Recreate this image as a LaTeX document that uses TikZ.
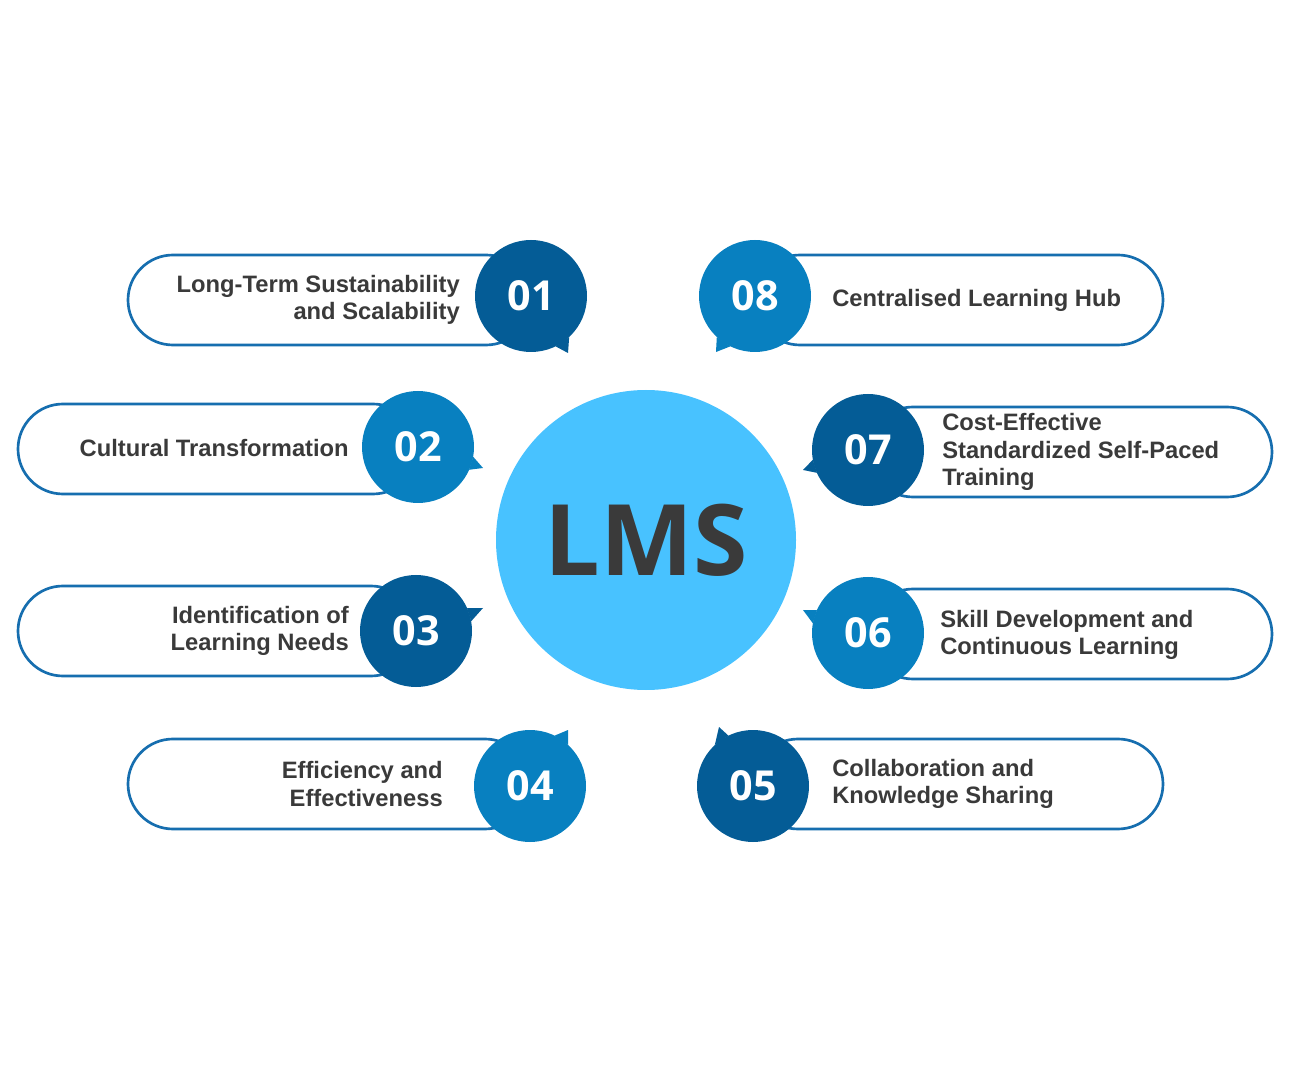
\documentclass[tikz,border=0pt]{standalone}
\usepackage{fontspec}
\setmainfont{Liberation Sans}
\newfontfamily\numfont{Open Sans}
\definecolor{darkblue}{RGB}{4,92,150}
\definecolor{midblue}{RGB}{8,128,192}
\definecolor{skyblue}{RGB}{72,194,255}
\definecolor{pillline}{RGB}{22,110,175}
\definecolor{txtgray}{RGB}{58,58,58}

\begin{document}
\begin{tikzpicture}[x=0.75pt,y=0.75pt,yscale=-1,xscale=1,
	pill/.style={draw=pillline,line width=2pt,fill=white,rounded corners=33.75pt},
	num/.style={circle,inner sep=0pt,outer sep=0pt,minimum size=84pt,text=white,font=\numfont\bfseries\fontsize{31}{31}\selectfont},
	lbl/.style={text=txtgray,inner sep=0.75pt,font=\bfseries\fontsize{17.8}{20.5}\selectfont},
	lblL/.style={lbl,anchor=east,align=right},
	lblR/.style={lbl,anchor=west,align=left}]
	\useasboundingbox[fill=white] (0,0) rectangle (1290,1080);
	% pills
	\draw[pill] (128,255) rectangle (531,345);
	\draw[pill] (18,404) rectangle (418,494);
	\draw[pill] (18,586) rectangle (416,676);
	\draw[pill] (128,739) rectangle (530,829);
	\draw[pill] (755,255) rectangle (1163,345);
	\draw[pill] (868,407) rectangle (1272,497);
	\draw[pill] (868,589) rectangle (1272,679);
	\draw[pill] (753,739) rectangle (1163,829);
	% centre
	\node[circle,fill=skyblue,inner sep=0pt,minimum size=225pt,text=txtgray,font=\numfont\bfseries\fontsize{74}{74}\selectfont] (lms) at (646,540) {LMS};
	% numbered bubbles
	\node[num,fill=darkblue] (n01) at (531,296) {01};
	\node[num,fill=midblue] (n02) at (418,447) {02};
	\node[num,fill=darkblue] (n03) at (416,631) {03};
	\node[num,fill=midblue] (n04) at (530,786) {04};
	\node[num,fill=darkblue] (n05) at (753,786) {05};
	\node[num,fill=midblue] (n06) at (868,633) {06};
	\node[num,fill=darkblue] (n07) at (868,450) {07};
	\node[num,fill=midblue] (n08) at (755,296) {08};
	% tails
	\fill[darkblue] (n01.-47) -- (568,353) -- (n01.-64) -- cycle;
	\fill[midblue] (n02.-10) -- (483,468) -- (n02.-24) -- cycle;
	\fill[darkblue] (n03.10) -- (483,608) -- (n03.24) -- cycle;
	\fill[midblue] (n04.47) -- (568,730) -- (n04.64) -- cycle;
	\fill[darkblue] (n05.133) -- (719,727) -- (n05.116) -- cycle;
	\fill[midblue] (n06.170) -- (803,610) -- (n06.156) -- cycle;
	\fill[darkblue] (n07.-170) -- (803,470) -- (n07.-156) -- cycle;
	\fill[midblue] (n08.-133) -- (716,352) -- (n08.-116) -- cycle;
	% labels
	\node[lblL] (t01) at (461,300) {Long-Term Sustainability\\and Scalability};
	\node[lblL] (t02) at (350,448) {Cultural Transformation};
	\node[lblL] (t03) at (350,631) {Identification of\\Learning Needs};
	\node[lblL] (t04) at (444,784) {Efficiency and\\Effectiveness};
	\node[lblR] (t05) at (831,784) {Collaboration and\\Knowledge Sharing};
	\node[lblR] (t06) at (939,635) {Skill Development and\\Continuous Learning};
	\node[lblR] (t07) at (941,452) {Cost-Effective\\Standardized Self-Paced\\Training};
	\node[lblR] (t08) at (831,300) {Centralised Learning Hub};
\end{tikzpicture}
\end{document}
